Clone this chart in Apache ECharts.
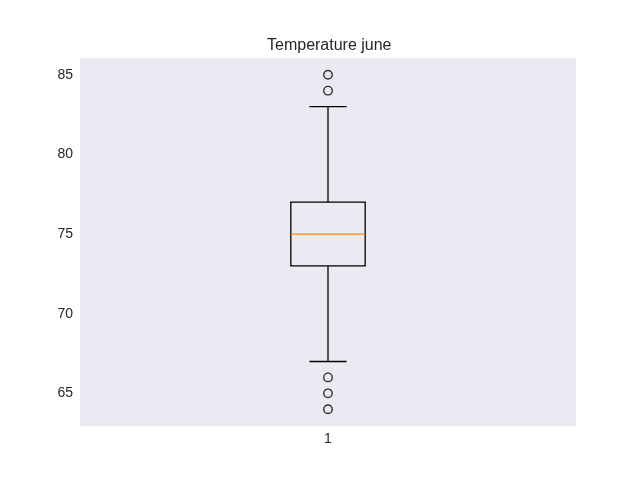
<!DOCTYPE html>
<html><head><meta charset="utf-8">
<script src="https://cdn.jsdelivr.net/npm/echarts@6/dist/echarts.min.js"></script>
<style>html,body{margin:0;padding:0;background:#fff}#c{width:640px;height:480px}</style>
</head><body><div id="c"></div>
<script>
const categories = ['1'];
// [whiskerLow, Q1, median, Q3, whiskerHigh]
const boxStats = [[67, 73, 75, 77, 83]];
const outliers = [84, 85, 66, 65, 64];
const yMin = 62.95, yMax = 86.05;

const chart = echarts.init(document.getElementById('c'), null, {renderer: 'canvas'});
const boxData = boxStats.map((s, i) => [i].concat(s));
const outlierData = outliers.map(v => [0, v]);

chart.setOption({
  animation: false,
  title: {text: 'Temperature june', left: 267, top: 38, padding: 0,
    textStyle: {fontFamily: 'Liberation Sans', fontSize: 16, fontWeight: 'normal', color: '#262626'}},
  grid: {left: 80, right: 64, top: 58, bottom: 54, show: true, backgroundColor: '#EAEAF2', borderWidth: 0},
  xAxis: {type: 'category', data: categories, boundaryGap: true,
    axisLine: {show: false}, axisTick: {show: false}, splitLine: {show: false},
    axisLabel: {fontFamily: 'Liberation Sans', fontSize: 14, color: '#262626', margin: 6}},
  yAxis: {type: 'value', min: yMin, max: yMax,
    axisLine: {show: false}, axisTick: {show: false}, splitLine: {show: false},
    axisLabel: {fontFamily: 'Liberation Sans', fontSize: 14, color: '#262626', margin: 7,
      showMinLabel: false, showMaxLabel: false,
      formatter: v => (Math.abs(v % 5) < 1e-6 ? String(Math.round(v)) : '')}},
  series: [
    {type: 'custom', data: boxData, encode: {x: 0, y: [1,2,3,4,5]},
      renderItem: function (params, api) {
        const cat = api.value(0);
        const lo = api.coord([cat, api.value(1)]);
        const q1 = api.coord([cat, api.value(2)]);
        const med = api.coord([cat, api.value(3)]);
        const q3 = api.coord([cat, api.value(4)]);
        const hi = api.coord([cat, api.value(5)]);
        const band = api.size([1, 0])[0];
        const hw = band * 0.075, cw = band * 0.0375;
        const x = lo[0];
        const st = {stroke: '#000', lineWidth: 1.3, fill: null};
        return {type: 'group', children: [
          {type: 'rect', shape: {x: x - hw, y: q3[1], width: 2 * hw, height: q1[1] - q3[1]}, style: st},
          {type: 'line', shape: {x1: x, y1: q1[1], x2: x, y2: lo[1]}, style: st},
          {type: 'line', shape: {x1: x, y1: q3[1], x2: x, y2: hi[1]}, style: st},
          {type: 'line', shape: {x1: x - cw, y1: lo[1], x2: x + cw, y2: lo[1]}, style: st},
          {type: 'line', shape: {x1: x - cw, y1: hi[1], x2: x + cw, y2: hi[1]}, style: st},
          {type: 'line', shape: {x1: x - hw, y1: med[1], x2: x + hw, y2: med[1]}, style: {stroke: '#FF7F0E', lineWidth: 1.3}}
        ]};
      }},
    {type: 'scatter', data: outlierData, symbol: 'circle', symbolSize: 8.5,
      itemStyle: {color: 'rgba(0,0,0,0)', borderColor: '#000', borderWidth: 1.4}}
  ]
});
</script></body></html>
